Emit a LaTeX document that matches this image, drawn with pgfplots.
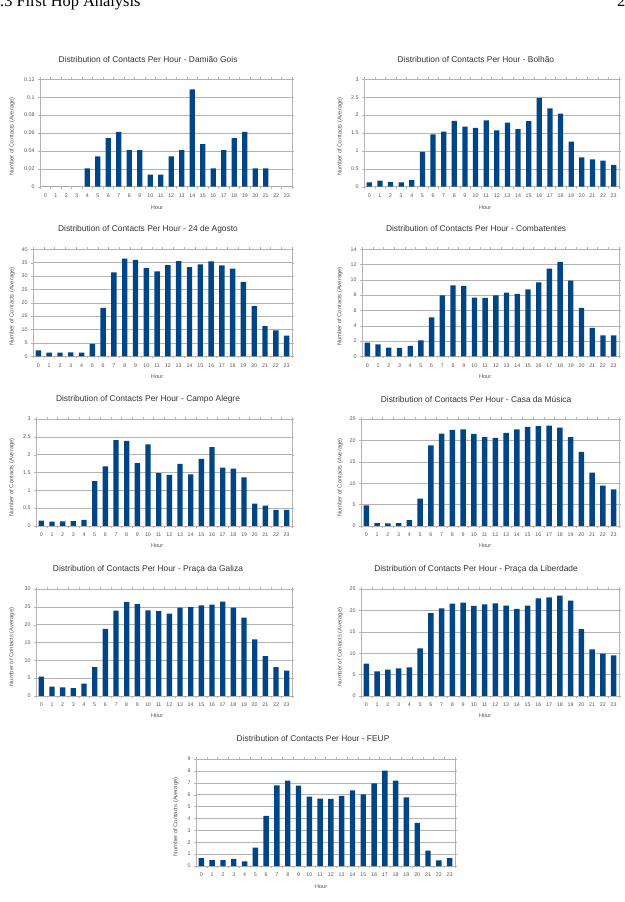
\documentclass[border=0pt]{standalone}
\usepackage{fontspec}
\setmainfont{Liberation Sans}
\newfontfamily\headfont{Liberation Serif}
\usepackage{pgfplots}
\pgfplotsset{compat=1.18}

\definecolor{barblue}{HTML}{004586}
\definecolor{gridgray}{HTML}{B3B3B3}
\definecolor{labelgray}{HTML}{555555}
\definecolor{titlegray}{HTML}{333333}

\pgfplotsset{
  hourbars/.style={
    scale only axis, anchor=south west,
    ybar, bar width=0.5,
    xmin=-0.5, xmax=23.5, ymin=0,
    xtick={0,...,23},
    major x tick style={draw=none},
    minor xtick={-0.5,0.5,...,23.5},
    minor x tick style={gridgray},
    minor tick length=2pt,
    major tick length=2pt,
    tick align=outside,
    axis line style={gridgray},
    ytick style={gridgray},
    ymajorgrids, grid style={gridgray, line width=0.4pt},
    scaled y ticks=false,
    /pgf/number format/assume math mode=true,
    tick label style={font=\fontsize{5.3}{6}\selectfont, text=labelgray},
    xticklabel style={anchor=north, text height=3.9pt, text depth=0pt, yshift=-1.5pt},
    title style={font=\fontsize{8.4}{10}\selectfont, text=titlegray, anchor=center},
    xlabel style={font=\fontsize{5.6}{7}\selectfont, text=labelgray, anchor=center},
    ylabel style={font=\fontsize{5.8}{7}\selectfont, text=labelgray, anchor=center},
    xlabel={Hour},
    ylabel={Number of Contacts (Average)},
  },
  hourbar/.style={fill=barblue, draw=none},
}

\begin{document}
\begin{tikzpicture}
\useasboundingbox (0pt,0pt) rectangle (624pt,902pt);

% running header
\node[anchor=base west, inner sep=0pt, font=\headfont\fontsize{16.4}{19}\selectfont] at (0pt,895pt) {.3 First Hop Analysis};
\node[anchor=base west, inner sep=0pt, font=\headfont\fontsize{16.4}{19}\selectfont] at (617pt,895pt) {2.};

% Damiao Gois
\begin{axis}[hourbars, at={(40pt,715.3pt)}, width=252pt, height=107.4pt,
  ymax=0.12, ytick={0,0.02,0.04,0.06,0.08,0.1,0.12},
  yticklabels={0,0.02,0.04,0.06,0.08,0.1,0.12},
  title={Distribution of Contacts Per Hour - Damião Gois},
  title style={at={(axis description cs:0.429,1.133)}},
  xlabel style={at={(axis description cs:0.464,-0.196)}},
  ylabel style={at={(axis description cs:-0.111,0.466)}}]
\addplot[hourbar] coordinates {(0,0) (1,0) (2,0) (3,0) (4,0.0204) (5,0.034) (6,0.0544) (7,0.0612)
  (8,0.0408) (9,0.0408) (10,0.0136) (11,0.0136) (12,0.034) (13,0.0408) (14,0.1088) (15,0.0476)
  (16,0.0204) (17,0.0408) (18,0.0544) (19,0.0612) (20,0.0204) (21,0.0204) (22,0) (23,0)};
\end{axis}

% Bolhao
\begin{axis}[hourbars, at={(364pt,715.3pt)}, width=255pt, height=107.4pt,
  ymax=3, ytick={0,0.5,1,1.5,2,2.5,3},
  yticklabels={0,0.5,1,1.5,2,2.5,3},
  title={Distribution of Contacts Per Hour - Bolhão},
  title style={at={(axis description cs:0.439,1.133)}},
  xlabel style={at={(axis description cs:0.475,-0.196)}},
  ylabel style={at={(axis description cs:-0.094,0.466)}}]
\addplot[hourbar] coordinates {(0,0.12) (1,0.17) (2,0.13) (3,0.12) (4,0.18) (5,0.97) (6,1.46) (7,1.54)
  (8,1.84) (9,1.68) (10,1.64) (11,1.85) (12,1.57) (13,1.79) (14,1.61) (15,1.83)
  (16,2.48) (17,2.19) (18,2.04) (19,1.26) (20,0.82) (21,0.76) (22,0.73) (23,0.61)};
\end{axis}

% 24 de Agosto
\begin{axis}[hourbars, at={(33pt,545.7pt)}, width=259pt, height=107pt,
  ymax=40, ytick={0,5,...,40},
  yticklabels={0,5,10,15,20,25,30,35,40},
  title={Distribution of Contacts Per Hour - 24 de Agosto},
  title style={at={(axis description cs:0.444,1.134)}},
  xlabel style={at={(axis description cs:0.479,-0.193)}},
  ylabel style={at={(axis description cs:-0.081,0.464)}}]
\addplot[hourbar] coordinates {(0,2.2) (1,1.4) (2,1.4) (3,1.5) (4,1.4) (5,4.6) (6,18.1) (7,31.4)
  (8,36.5) (9,36.0) (10,33.0) (11,31.7) (12,34.1) (13,35.6) (14,33.3) (15,34.4)
  (16,35.5) (17,34.0) (18,32.8) (19,27.8) (20,18.8) (21,11.3) (22,9.7) (23,7.7)};
\end{axis}

% Combatentes
\begin{axis}[hourbars, at={(362pt,545.7pt)}, width=257pt, height=107pt,
  ymax=14, ytick={0,2,...,14},
  yticklabels={0,2,4,6,8,10,12,14},
  title={Distribution of Contacts Per Hour - Combatentes},
  title style={at={(axis description cs:0.444,1.134)}},
  xlabel style={at={(axis description cs:0.479,-0.193)}},
  ylabel style={at={(axis description cs:-0.086,0.464)}}]
\addplot[hourbar] coordinates {(0,1.79) (1,1.57) (2,1.13) (3,1.09) (4,1.35) (5,2.09) (6,5.10) (7,7.98)
  (8,9.29) (9,9.20) (10,7.68) (11,7.63) (12,7.98) (13,8.33) (14,8.16) (15,8.77)
  (16,9.68) (17,11.47) (18,12.34) (19,9.90) (20,6.32) (21,3.71) (22,2.75) (23,2.75)};
\end{axis}

% Campo Alegre
\begin{axis}[hourbars, at={(36pt,376pt)}, width=256pt, height=107pt,
  ymax=3, ytick={0,0.5,1,1.5,2,2.5,3},
  yticklabels={0,0.5,1,1.5,2,2.5,3},
  title={Distribution of Contacts Per Hour - Campo Alegre},
  title style={at={(axis description cs:0.4375,1.131)}},
  xlabel style={at={(axis description cs:0.473,-0.187)}},
  ylabel style={at={(axis description cs:-0.094,0.453)}}]
\addplot[hourbar] coordinates {(0,0.15) (1,0.12) (2,0.13) (3,0.14) (4,0.17) (5,1.26) (6,1.67) (7,2.41)
  (8,2.39) (9,1.76) (10,2.29) (11,1.48) (12,1.43) (13,1.74) (14,1.45) (15,1.88)
  (16,2.21) (17,1.64) (18,1.61) (19,1.36) (20,0.63) (21,0.57) (22,0.45) (23,0.45)};
\end{axis}

% Casa da Musica
\begin{axis}[hourbars, at={(361pt,376pt)}, width=258pt, height=107pt,
  ymax=25, ytick={0,5,...,25},
  yticklabels={0,5,10,15,20,25},
  title={Distribution of Contacts Per Hour - Casa da Música},
  title style={at={(axis description cs:0.446,1.131)}},
  xlabel style={at={(axis description cs:0.481,-0.187)}},
  ylabel style={at={(axis description cs:-0.081,0.453)}}]
\addplot[hourbar] coordinates {(0,4.83) (1,0.70) (2,0.62) (3,0.70) (4,1.40) (5,6.39) (6,18.85) (7,21.57)
  (8,22.43) (9,22.59) (10,21.50) (11,20.79) (12,20.56) (13,21.73) (14,22.59) (15,23.13)
  (16,23.36) (17,23.44) (18,22.97) (19,20.79) (20,17.29) (21,12.46) (22,9.42) (23,8.57)};
\end{axis}

% Praca da Galiza
\begin{axis}[hourbars, at={(36pt,206pt)}, width=256pt, height=107pt,
  ymax=30, ytick={0,5,...,30},
  yticklabels={0,5,10,15,20,25,30},
  title={Distribution of Contacts Per Hour - Praça da Galiza},
  title style={at={(axis description cs:0.4375,1.131)}},
  xlabel style={at={(axis description cs:0.473,-0.187)}},
  ylabel style={at={(axis description cs:-0.094,0.458)}}]
\addplot[hourbar] coordinates {(0,5.42) (1,2.62) (2,2.43) (3,2.24) (4,3.46) (5,8.13) (6,18.79) (7,23.93)
  (8,26.36) (9,25.79) (10,24.02) (11,23.83) (12,23.08) (13,24.77) (14,24.95) (15,25.42)
  (16,25.61) (17,26.45) (18,24.77) (19,21.96) (20,15.89) (21,11.21) (22,8.13) (23,7.10)};
\end{axis}

% Praca da Liberdade
\begin{axis}[hourbars, at={(361pt,206pt)}, width=258pt, height=107pt,
  ymax=25, ytick={0,5,...,25},
  yticklabels={0,5,10,15,20,25},
  title={Distribution of Contacts Per Hour - Praça da Liberdade},
  title style={at={(axis description cs:0.446,1.131)}},
  xlabel style={at={(axis description cs:0.481,-0.187)}},
  ylabel style={at={(axis description cs:-0.081,0.458)}}]
\addplot[hourbar] coordinates {(0,7.55) (1,5.76) (2,6.15) (3,6.46) (4,6.70) (5,11.14) (6,19.39) (7,20.48)
  (8,21.57) (9,21.81) (10,21.03) (11,21.42) (12,21.65) (13,21.11) (14,20.33) (15,21.11)
  (16,22.82) (17,23.05) (18,23.44) (19,22.27) (20,15.65) (21,10.90) (22,9.89) (23,9.50)};
\end{axis}

% FEUP
\begin{axis}[hourbars, at={(196pt,36pt)}, width=259pt, height=107pt,
  ymax=9, ytick={0,1,...,9},
  yticklabels={0,1,2,3,4,5,6,7,8,9},
  title={Distribution of Contacts Per Hour - FEUP},
  title style={at={(axis description cs:0.452,1.131)}},
  xlabel style={at={(axis description cs:0.483,-0.196)}},
  ylabel style={at={(axis description cs:-0.078,0.46)}}]
\addplot[hourbar] coordinates {(0,0.67) (1,0.50) (2,0.50) (3,0.59) (4,0.39) (5,1.54) (6,4.21) (7,6.78)
  (8,7.18) (9,6.76) (10,5.83) (11,5.66) (12,5.64) (13,5.89) (14,6.37) (15,6.03)
  (16,6.95) (17,8.02) (18,7.18) (19,5.78) (20,3.62) (21,1.29) (22,0.48) (23,0.67)};
\end{axis}
\end{tikzpicture}
\end{document}
